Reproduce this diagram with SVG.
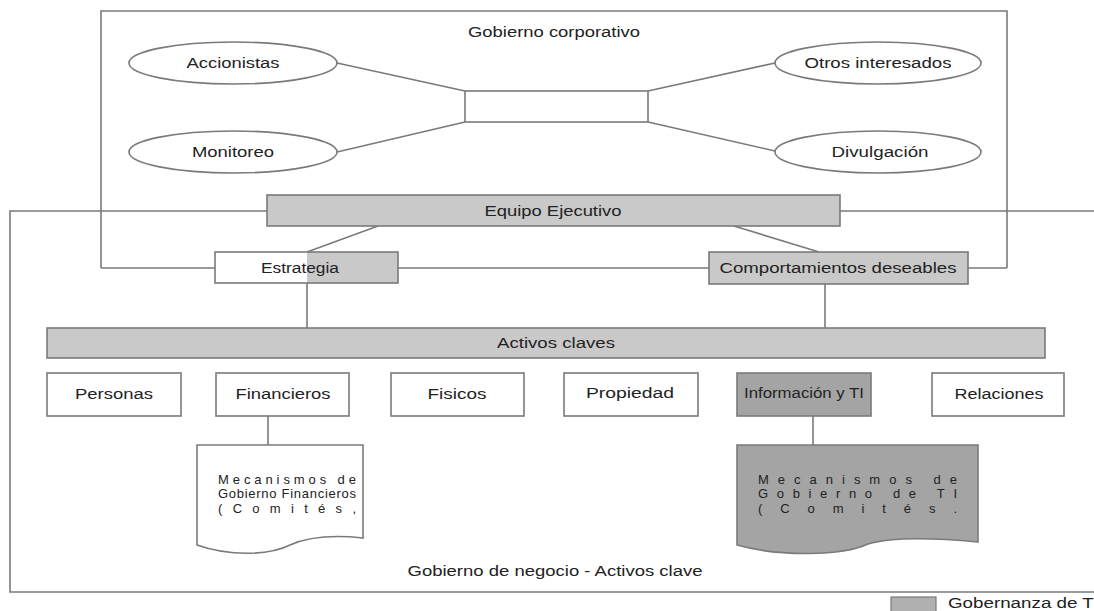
<svg xmlns="http://www.w3.org/2000/svg" width="1094" height="611" viewBox="0 0 1094 611">
<style>
.ln{fill:none;stroke:#7a7a7a;stroke-width:1.6}
.bx{fill:#ffffff;stroke:#7a7a7a;stroke-width:1.6}
.gr{fill:#c9c9c9;stroke:#7a7a7a;stroke-width:1.6}
.dk{fill:#a4a4a4;stroke:#7a7a7a;stroke-width:1.6}
text{font-family:"Liberation Sans",Arial,sans-serif;font-size:14px;fill:#222;text-anchor:middle}
.doc{font-size:13px;text-anchor:start}
</style>
<rect width="1094" height="611" fill="#ffffff"/>
<g id="frames">
<path class="ln" d="M101,268 V11 H1007 V268"/>
<path class="ln" d="M267,211 H10 V592 H1094 M840,211 H1094"/>
<text x="554" y="37" textLength="172" lengthAdjust="spacingAndGlyphs">Gobierno corporativo</text>
<text x="555" y="576" textLength="295" lengthAdjust="spacingAndGlyphs">Gobierno de negocio - Activos clave</text>
</g>
<g id="connectors">
<path class="ln" d="M337,63 L465,91 M337,152 L465,122 M648,91 L775,63 M648,122 L775,151"/>
<path class="ln" d="M378,226 L307,252 M734,226 L819,252"/>
<path class="ln" d="M101,268 H215 M398,268 H709 M968,268 H1007"/>
<path class="ln" d="M307,283 V328 M825,284 V328 M268,415 V445 M813,415 V445"/>
</g>
<g id="accionistas"><ellipse class="bx" cx="233" cy="63" rx="104" ry="21"/><text x="233" y="68" textLength="93" lengthAdjust="spacingAndGlyphs">Accionistas</text></g>
<g id="monitoreo"><ellipse class="bx" cx="233" cy="152" rx="104" ry="21"/><text x="233" y="157" textLength="82" lengthAdjust="spacingAndGlyphs">Monitoreo</text></g>
<g id="otros"><ellipse class="bx" cx="878" cy="63" rx="103" ry="21"/><text x="878" y="68" textLength="147" lengthAdjust="spacingAndGlyphs">Otros interesados</text></g>
<g id="divulgacion"><ellipse class="bx" cx="878" cy="152" rx="103" ry="21"/><text x="880" y="157" textLength="97" lengthAdjust="spacingAndGlyphs">Divulgación</text></g>
<g id="centro"><rect class="bx" x="465" y="91" width="183" height="31"/></g>
<g id="equipo"><rect class="gr" x="267" y="195" width="573" height="31"/><text x="553" y="216" textLength="137" lengthAdjust="spacingAndGlyphs">Equipo Ejecutivo</text></g>
<g id="estrategia">
<rect x="307" y="252" width="91" height="31" fill="#c9c9c9"/>
<rect x="215" y="252" width="183" height="31" fill="none" stroke="#7a7a7a" stroke-width="1.6"/>
<text x="300" y="273" textLength="78" lengthAdjust="spacingAndGlyphs">Estrategia</text></g>
<g id="comportamientos"><rect class="gr" x="709" y="252" width="259" height="32"/><text x="838" y="273" textLength="237" lengthAdjust="spacingAndGlyphs">Comportamientos deseables</text></g>
<g id="activos"><rect class="gr" x="47" y="328" width="998" height="30"/><text x="556" y="348" textLength="118" lengthAdjust="spacingAndGlyphs">Activos claves</text></g>
<g id="personas"><rect class="bx" x="47" y="373" width="134" height="43"/><text x="114" y="399" textLength="78" lengthAdjust="spacingAndGlyphs">Personas</text></g>
<g id="financieros"><rect class="bx" x="216" y="373" width="133" height="43"/><text x="283" y="399" textLength="95" lengthAdjust="spacingAndGlyphs">Financieros</text></g>
<g id="fisicos"><rect class="bx" x="391" y="373" width="133" height="43"/><text x="457" y="399" textLength="59" lengthAdjust="spacingAndGlyphs">Fisicos</text></g>
<g id="propiedad"><rect class="bx" x="564" y="373" width="134" height="43"/><text x="630" y="398" textLength="88" lengthAdjust="spacingAndGlyphs">Propiedad</text></g>
<g id="informacion"><rect class="dk" x="737" y="373" width="134" height="43"/><text x="804" y="398" textLength="120" lengthAdjust="spacingAndGlyphs">Información y TI</text></g>
<g id="relaciones"><rect class="bx" x="932" y="373" width="132" height="43"/><text x="999" y="399" textLength="89" lengthAdjust="spacingAndGlyphs">Relaciones</text></g>
<g id="mec-financieros">
<path class="bx" d="M197,445 H363 V538 C335,535 308,537 290,545 C268,556 228,556 197,545 Z"/>
<text class="doc" x="218" y="484" textLength="138" lengthAdjust="spacing">Mecanismos de</text>
<text class="doc" x="218" y="498" textLength="138" lengthAdjust="spacing">Gobierno Financieros</text>
<text class="doc" x="218" y="513" textLength="138" lengthAdjust="spacing">(Comités,</text>
</g>
<g id="mec-ti">
<path class="dk" d="M737,445 H978 V542 C935,538 892,537 868,544 C842,556 780,557 737,545 Z"/>
<text class="doc" x="758" y="484" textLength="199" lengthAdjust="spacing">Mecanismos de</text>
<text class="doc" x="758" y="498" textLength="199" lengthAdjust="spacing">Gobierno de TI</text>
<text class="doc" x="758" y="513" textLength="199" lengthAdjust="spacing">(Comités.</text>
</g>
<g id="leyenda">
<rect x="891" y="597" width="45" height="16" fill="#b0b0b0" stroke="#7a7a7a" stroke-width="1.2"/>
<text x="948" y="608" style="text-anchor:start" textLength="151" lengthAdjust="spacingAndGlyphs">Gobernanza de TI</text>
</g>
</svg>
